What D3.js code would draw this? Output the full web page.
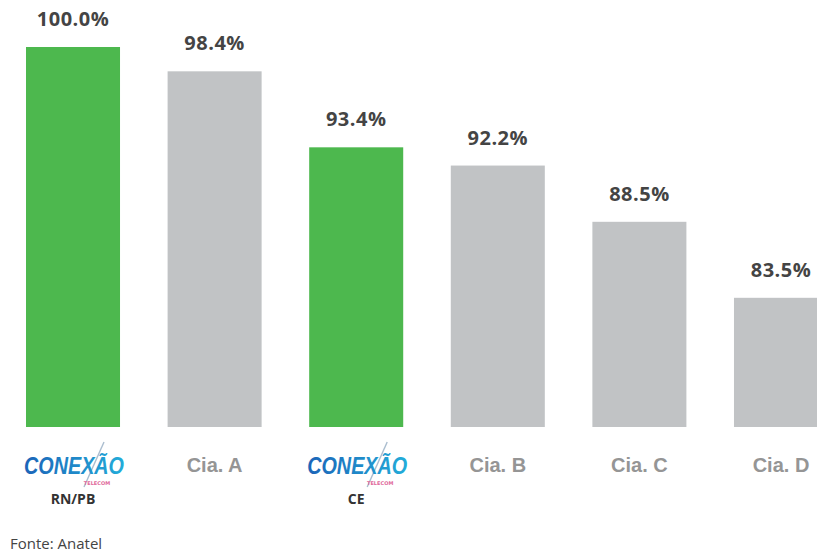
<!DOCTYPE html>
<html>
<head>
<meta charset="utf-8">
<script src="https://cdn.jsdelivr.net/npm/d3@7"></script>
<style>
  body { margin: 0; background: #fff; }
  svg { display: block; }
</style>
</head>
<body>
<div id="chart"></div>
<script>
// data
var categories = ["RN/PB", "Cia. A", "CE", "Cia. B", "Cia. C", "Cia. D"];
var values = [100.0, 98.4, 93.4, 92.2, 88.5, 83.5];
var isConexao = [true, false, true, false, false, false];
var subLabels = ["RN/PB", "", "CE", "", "", ""];
var source = "Fonte: Anatel";

var width = 817, height = 554;

var svg = d3.select("#chart")
  .append("svg")
  .attr("width", width)
  .attr("height", height);

// gradient for the logo text
var defs = svg.append("defs");
var grad = defs.append("linearGradient")
  .attr("id", "logoGrad")
  .attr("x1", "0%").attr("x2", "100%").attr("y1", "0%").attr("y2", "0%");
grad.append("stop").attr("offset", "0%").attr("stop-color", "#1c64b8");
grad.append("stop").attr("offset", "100%").attr("stop-color", "#23acd9");

// x: band scale, y: axis starts at 75%
var x = d3.scaleBand()
  .domain(categories)
  .range([26, 828])
  .paddingInner(0.336)
  .paddingOuter(0);

var y = d3.scaleLinear()
  .domain([75, 100])
  .range([427, 47]);

svg.selectAll(".bar")
  .data(values)
  .enter().append("rect")
  .attr("class", "bar")
  .attr("x", function(d, i) { return x(categories[i]); })
  .attr("y", function(d) { return y(d); })
  .attr("width", x.bandwidth())
  .attr("height", function(d) { return y(75) - y(d); })
  .attr("fill", function(d, i) { return isConexao[i] ? "#4db84e" : "#c1c3c5"; });

// value labels
svg.selectAll(".val")
  .data(values)
  .enter().append("text")
  .attr("class", "val")
  .attr("x", function(d, i) { return x(categories[i]) + x.bandwidth() / 2; })
  .attr("y", function(d) { return y(d) - 21; })
  .attr("text-anchor", "middle")
  .style("font-family", "'Open Sans', sans-serif")
  .style("font-weight", "bold")
  .style("font-size", "20px")
  .style("letter-spacing", "0.5px")
  .style("fill", "#444")
  .text(function(d) { return d.toFixed(1) + "%"; });

// category labels
categories.forEach(function(c, i) {
  var cx = x(c) + x.bandwidth() / 2;
  if (isConexao[i]) {
    var g = svg.append("g").attr("transform", "translate(" + cx + ",0)");
    // slash through the logo
    g.append("line")
      .attr("x1", 31).attr("y1", 442)
      .attr("x2", 11).attr("y2", 487)
      .attr("stroke", "#aabdcf")
      .attr("stroke-width", 1.4);
    g.append("text")
      .attr("x", 1)
      .attr("y", 474)
      .attr("text-anchor", "middle")
      .style("font-family", "'Liberation Sans Narrow', 'Liberation Sans', sans-serif")
      .style("font-style", "italic")
      .style("font-weight", "bold")
      .style("font-size", "24px")
      .attr("textLength", 100)
      .attr("lengthAdjust", "spacingAndGlyphs")
      .style("fill", "url(#logoGrad)")
      .text("CONEXÃO");
    g.append("text")
      .attr("x", 24)
      .attr("y", 485)
      .attr("text-anchor", "middle")
      .style("font-family", "'DejaVu Sans', sans-serif")
      .style("font-weight", "bold")
      .style("font-size", "5px")
      .style("fill", "#e0689a")
      .text("TELECOM");
    svg.append("text")
      .attr("x", cx)
      .attr("y", 504)
      .attr("text-anchor", "middle")
      .style("font-family", "'Open Sans', sans-serif")
      .style("font-weight", "bold")
      .style("font-size", "14px")
      .style("fill", "#333")
      .text(subLabels[i]);
  } else {
    svg.append("text")
      .attr("x", cx)
      .attr("y", 472)
      .attr("text-anchor", "middle")
      .style("font-family", "'Liberation Sans', Arial, sans-serif")
      .style("font-weight", "bold")
      .style("font-size", "20px")
      .style("fill", "#959595")
      .text(c);
  }
});

// source
svg.append("text")
  .attr("x", 10)
  .attr("y", 549)
  .style("font-family", "'Open Sans', sans-serif")
  .style("font-size", "15px")
  .style("fill", "#444")
  .text(source);
</script>
</body>
</html>
